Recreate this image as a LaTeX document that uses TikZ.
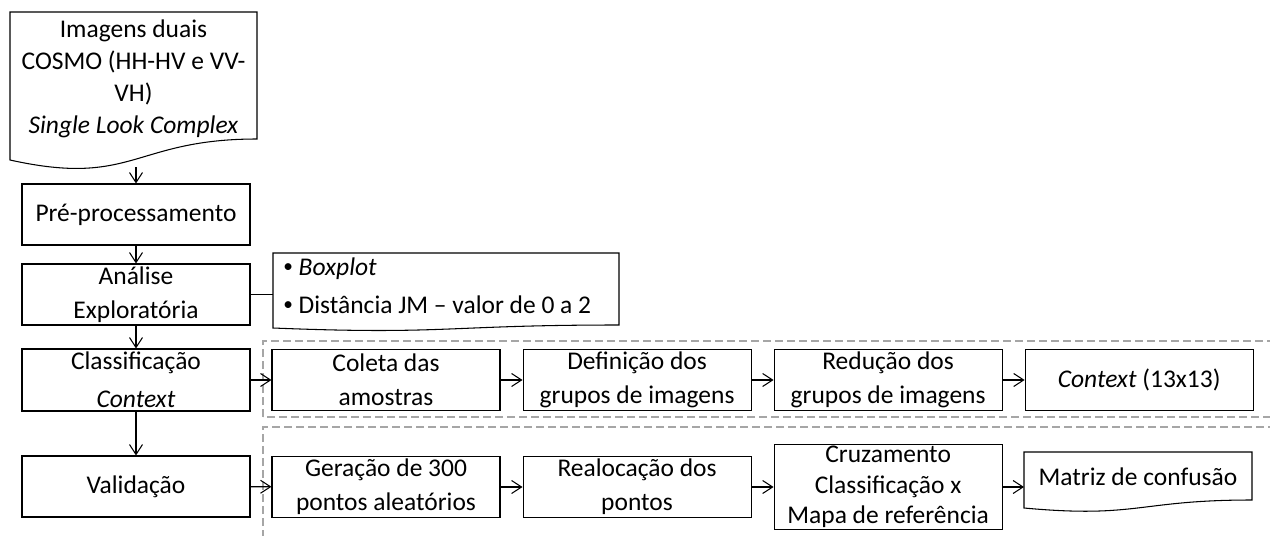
\documentclass[tikz,border=0pt]{standalone}
\usepackage{fontspec}
\setmainfont{Carlito}
\usetikzlibrary{positioning,arrows.meta}

\definecolor{groupgray}{RGB}{166,166,166}
\newcommand{\notebullet}{\raisebox{0.12em}{\fontsize{11}{11}\selectfont•}}

\tikzset{
  stepbox/.style={draw,line width=0.6pt,minimum width=4.56cm,minimum height=1.22cm,align=center,inner sep=1pt},
  group/.style={draw=groupgray,line width=0.6pt,dash pattern=on 1.6mm off 0.8mm},
  flow/.style={-{Straight Barb[length=2mm,width=2.6mm]},line width=0.6pt}
}

\begin{document}
\begin{tikzpicture}[font=\fontsize{14.5}{19.5}\selectfont]
        \useasboundingbox (0,0) rectangle (25.4,10.7);

        % Dashed groups
        \draw[group] (5.26,2.36) rectangle (25.7,3.88);
        \draw[group] (5.26,-0.3) rectangle (25.7,2.16);

        % Input images (document shape)
        \draw[line width=0.6pt] (0.2,7.5) -- (0.2,10.46) -- (5.14,10.46) -- (5.14,7.92)
          .. controls (2.67,7.92) and (2.67,6.95) .. cycle;
        \node[align=center,font=\fontsize{14.5}{18.3}\selectfont] (img) at (2.67,9.12) {Imagens duais\\COSMO (HH-HV e VV-\\VH)\\\textit{Single Look Complex}};
        \coordinate (imgout) at (2.72,7.36);

        % Main column
        \node[stepbox] (pre) at (2.72,6.41) {Pré-processamento};
        \node[stepbox] (analise) at (2.72,4.81) {Análise\\Exploratória};
        \node[stepbox,minimum height=1.24cm] (classif) at (2.72,3.10) {Classificação\\[2pt]\textit{Context}};
        \node[stepbox] (valid) at (2.72,0.97) {Validação};

        % Note (document shape)
        \draw[line width=0.6pt] (5.46,4.14) -- (5.46,5.64) -- (12.38,5.64) -- (12.38,4.20)
          .. controls (8.92,4.20) and (8.92,4.0) .. cycle;
        \node[anchor=west,align=left,inner sep=0pt,font=\fontsize{14.5}{21.5}\selectfont] (note) at (5.66,4.98)
          {\notebullet\ \textit{Boxplot}\\\notebullet\ Distância JM – valor de 0 a 2};
        \coordinate (notein) at (5.46,4.81);

        % Classification row
        \node[stepbox] (coleta) at (7.72,3.10) {Coleta das\\amostras};
        \node[stepbox,right=0.44cm of coleta] (defin) {Definição dos\\grupos de imagens};
        \node[stepbox,right=0.44cm of defin] (reduc) {Redução dos\\grupos de imagens};
        \node[stepbox,right=0.44cm of reduc] (ctx) {\textit{Context} (13x13)};

        % Validation row
        \node[stepbox] (geracao) at (7.72,0.96) {Geração de 300\\pontos aleatórios};
        \node[stepbox,right=0.44cm of geracao] (realoc) {Realocação dos\\pontos};
        \node[stepbox,minimum height=1.7cm,right=0.44cm of realoc,font=\fontsize{14.5}{17.5}\selectfont] (cruz) {Cruzamento\\Classificação x\\Mapa de referência};

        % Confusion matrix (document shape)
        \draw[line width=0.6pt] (20.48,0.54) -- (20.48,1.66) -- (25.04,1.66) -- (25.04,0.70)
          .. controls (22.76,0.70) and (22.76,0.33) .. cycle;
        \node (matriz) at (22.76,1.16) {Matriz de confusão};
        \coordinate (matrizin) at (20.48,0.96);

        % Connectors
        \draw[flow] (imgout) -- (pre.north);
        \draw[flow] (pre) -- (analise);
        \draw[flow] (analise) -- (classif);
        \draw[flow] (classif) -- (valid);
        \draw[line width=0.6pt] (analise.east) -- (notein);
        \draw[flow] (classif) -- (coleta);
        \draw[flow] (coleta) -- (defin);
        \draw[flow] (defin) -- (reduc);
        \draw[flow] (reduc) -- (ctx);
        \draw[flow] (valid) -- (geracao);
        \draw[flow] (geracao) -- (realoc);
        \draw[flow] (realoc) -- (cruz);
        \draw[flow] (cruz.east) -- (matrizin);
      \end{tikzpicture}
\end{document}
